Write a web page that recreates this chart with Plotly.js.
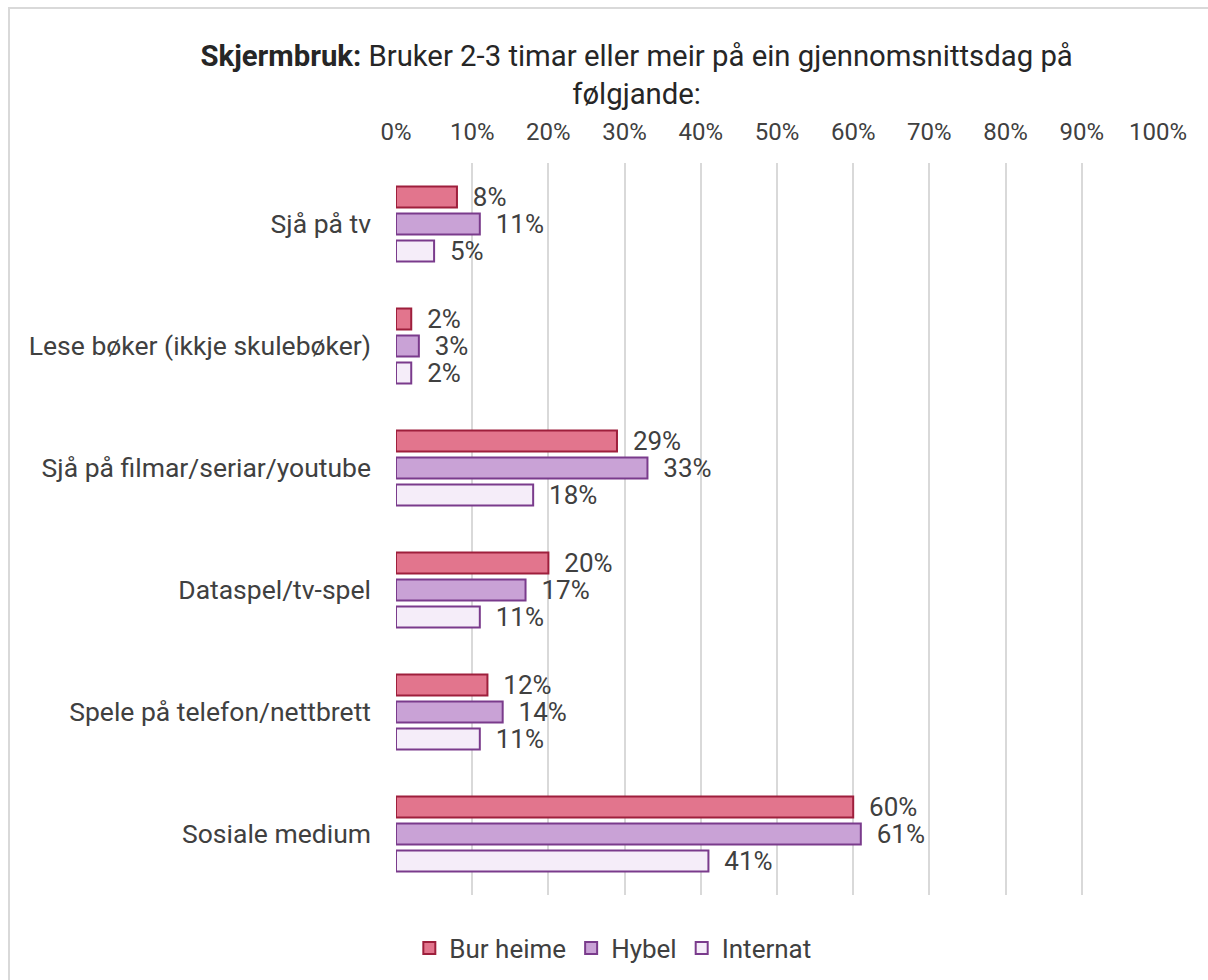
<!DOCTYPE html>
<html>
<head>
<meta charset="utf-8">
<script src="https://cdn.plot.ly/plotly-3.0.1.min.js"></script>
<style>
  html, body { margin:0; padding:0; background:#ffffff; overflow:hidden; }
  #wrap { position:absolute; left:0; top:0; width:1208px; height:980px; overflow:hidden; background:#fff; }
  #frame { position:absolute; left:8px; top:7px; width:1400px; height:1200px; border-left:2px solid #d9d9d9; border-top:2px solid #d9d9d9; }
  #chart { position:absolute; left:0; top:0; width:1208px; height:980px; }
</style>
</head>
<body>
<div id="wrap">
  <div id="frame"></div>
  <div id="chart"></div>
</div>
<script>
const categories = [
  "Sjå på tv",
  "Lese bøker (ikkje skulebøker)",
  "Sjå på filmar/seriar/youtube",
  "Dataspel/tv-spel",
  "Spele på telefon/nettbrett",
  "Sosiale medium"
];
const burHeime = [0.08, 0.02, 0.29, 0.20, 0.12, 0.60];
const hybel    = [0.11, 0.03, 0.33, 0.17, 0.14, 0.61];
const internat = [0.05, 0.02, 0.18, 0.11, 0.11, 0.41];
const seriesNames = ["Bur heime", "Hybel", "Internat"];
const tickVals = [0,0.1,0.2,0.3,0.4,0.5,0.6,0.7,0.8,0.9,1.0];
const tickText = ["0%","10%","20%","30%","40%","50%","60%","70%","80%","90%","100%"];

const FONT = "Roboto, 'Open Sans', sans-serif";
const TXT = "#404040";

function mk(name, vals, fill, line) {
  return {
    type: "bar", orientation: "h", name: name,
    y: categories, x: vals,
    marker: { color: fill, line: { color: line, width: 2 } },
    text: vals.map(v => "\u00a0\u00a0" + Math.round(v*100) + "%"),
    texttemplate: "%{text}",
    textposition: "outside",
    constraintext: "none",
    cliponaxis: false,
    textfont: { family: FONT, size: 26, color: TXT },
    hoverinfo: "skip"
  };
}

const data = [
  mk(seriesNames[0], burHeime, "#E2758D", "#9E1F3C"),
  mk(seriesNames[1], hybel, "#C9A2D6", "#7A3B8C"),
  mk(seriesNames[2], internat, "#F5EDF9", "#7A3B8C")
];

const layout = {
  width: 1208, height: 980,
  paper_bgcolor: "rgba(0,0,0,0)",
  plot_bgcolor: "rgba(0,0,0,0)",
  margin: { l: 396, r: 50, t: 163, b: 85, pad: 0 },
  font: { family: FONT, size: 24, color: TXT },
  barmode: "group",
  bargap: 0.336,
  bargroupgap: 0.23,
  title: {
    text: "<b>Skjermbruk:</b> Bruker 2-3 timar eller meir på ein gjennomsnittsdag på<br>følgjande:",
    font: { family: FONT, size: 29.3, color: "#262626" },
    xref: "container", x: 0.527, xanchor: "center",
    yref: "container", y: 1 - 66/980, yanchor: "top"
  },
  xaxis: {
    side: "top",
    range: [0, 1],
    tickvals: tickVals, ticktext: tickText,
    showgrid: true, gridcolor: "#d9d9d9", gridwidth: 2,
    zeroline: false, showline: false, ticks: "",
    ticklabelstandoff: 17,
    tickfont: { family: FONT, size: 24, color: TXT },
    fixedrange: true
  },
  yaxis: {
    type: "category",
    autorange: "reversed",
    showgrid: false, zeroline: false, showline: false, ticks: "",
    ticklabelstandoff: 24,
    tickfont: { family: FONT, size: 26.5, color: TXT },
    fixedrange: true
  },
  legend: {
    orientation: "h",
    xref: "container", x: 0.5073, xanchor: "center",
    yref: "container", y: 1 - 948/980, yanchor: "middle",
    font: { family: FONT, size: 26, color: TXT },
    traceorder: "normal",
    itemwidth: 30
  },
  showlegend: true
};

Plotly.newPlot("chart", data, layout, { displayModeBar: false, staticPlot: true });
</script>
</body>
</html>
